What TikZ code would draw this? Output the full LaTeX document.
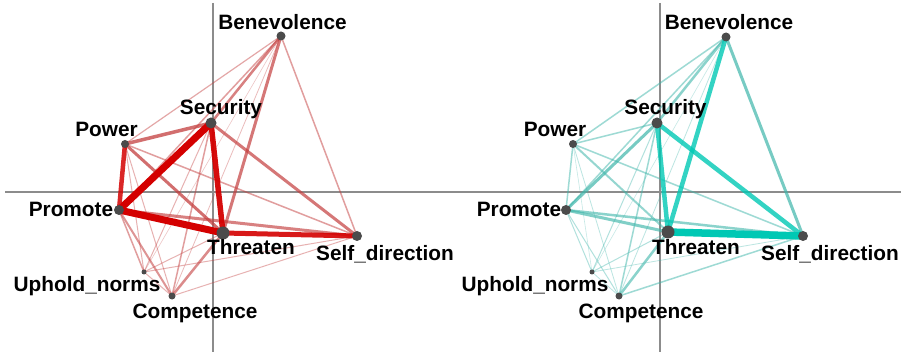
\documentclass[tikz,border=0pt]{standalone}
\usepackage{fontspec}
\setmainfont{Liberation Sans}
\pgfdeclarelayer{edges}
\pgfsetlayers{edges,main}
\begin{document}
\definecolor{axisgray}{RGB}{140,140,140}
\definecolor{nodegray}{RGB}{75,75,75}
\definecolor{redS}{RGB}{212,0,0}
\definecolor{redM}{RGB}{196,62,62}
\definecolor{tealS}{RGB}{0,200,180}
\definecolor{tealM}{RGB}{62,182,170}
\begin{tikzpicture}[x=1pt,y=-1pt,
  axis/.style={draw=axisgray,line width=1.1pt},
  vertex/.style={circle,fill=nodegray,inner sep=0pt,minimum size=#1},
  lbl/.style={font=\bfseries\fontsize{20.8}{22}\selectfont,anchor=base,inner sep=0pt},
  edge/.style={line cap=round}]
\useasboundingbox (0,0) rectangle (901,352);

% axes
\coordinate (lxa) at (5,192);   \coordinate (lxb) at (450,192);
\coordinate (lya) at (213,3);   \coordinate (lyb) at (213,352);
\coordinate (rxa) at (450,192); \coordinate (rxb) at (901,192);
\coordinate (rya) at (660,3);   \coordinate (ryb) at (660,352);
\begin{pgfonlayer}{edges}
\fill[white] (0,0) rectangle (901,352);
\draw[axis] (lxa) -- (lxb);
\draw[axis] (lya) -- (lyb);
\draw[axis] (rxa) -- (rxb);
\draw[axis] (rya) -- (ryb);
\end{pgfonlayer}

% left network: vertices
\node[vertex=9pt]  (lBe) at (281,36) {};
\node[vertex=11pt] (lSe) at (211,123) {};
\node[vertex=8pt]  (lPo) at (125,144) {};
\node[vertex=10pt] (lPr) at (119,210) {};
\node[vertex=13pt] (lTh) at (223,233) {};
\node[vertex=10pt] (lSd) at (357,236) {};
\node[vertex=5pt]  (lUp) at (144,272) {};
\node[vertex=7pt]  (lCo) at (172,296) {};

% right network: vertices
\node[vertex=9pt]  (rBe) at (726,37) {};
\node[vertex=11pt] (rSe) at (657,123) {};
\node[vertex=8pt]  (rPo) at (573,144) {};
\node[vertex=10pt] (rPr) at (566,210) {};
\node[vertex=13pt] (rTh) at (668,232) {};
\node[vertex=10pt] (rSd) at (803,236) {};
\node[vertex=5pt]  (rUp) at (592,272) {};
\node[vertex=7pt]  (rCo) at (619,296) {};

% weighted edges, below the vertices
\begin{pgfonlayer}{edges}
\foreach \a/\b/\w/\o/\c in {
  Up/Be/0.6/0.3/redM, Co/Be/0.8/0.35/redM, Up/Po/1/0.4/redM, Up/Se/1/0.4/redM,
  Up/Th/1/0.4/redM, Up/Sd/1/0.4/redM, Up/Co/1/0.4/redM, Co/Po/1/0.4/redM,
  Co/Sd/1/0.4/redM, Po/Be/1.2/0.45/redM, Up/Pr/1.5/0.5/redM, Co/Se/1.5/0.5/redM,
  Pr/Be/1.5/0.5/redM, Be/Sd/1.5/0.5/redM, Po/Sd/1.5/0.5/redM, Co/Pr/2/0.55/redM,
  Co/Th/2.5/0.6/redM, Se/Be/2.5/0.65/redM, Pr/Sd/3/0.65/redM, Se/Sd/3/0.7/redM,
  Th/Be/3/0.7/redM, Po/Th/3/0.75/redM, Po/Se/3.5/0.75/redM, Po/Pr/4.5/0.85/redS,
  Th/Sd/5/0.9/redS, Se/Th/5.5/0.95/redS, Pr/Th/7/1/redS, Pr/Se/7/1/redS}
  \draw[edge,draw=\c,line width=\w pt,draw opacity=\o] (l\a.center) -- (l\b.center);
\foreach \a/\b/\w/\o/\c in {
  Up/Be/0.6/0.3/tealM, Up/Po/0.6/0.3/tealM, Co/Po/0.8/0.35/tealM, Co/Be/0.8/0.35/tealM,
  Up/Sd/0.8/0.35/tealM, Up/Co/0.8/0.35/tealM, Up/Pr/1/0.4/tealM, Up/Se/1/0.4/tealM,
  Up/Th/1/0.4/tealM, Co/Pr/1/0.4/tealM, Po/Se/1.5/0.5/tealM, Po/Pr/1.5/0.5/tealM,
  Po/Be/1.5/0.5/tealM, Po/Sd/1.5/0.5/tealM, Co/Se/1.5/0.5/tealM, Co/Sd/1.5/0.5/tealM,
  Pr/Be/1.5/0.5/tealM, Po/Th/2/0.55/tealM, Co/Th/2.5/0.6/tealM, Se/Be/2.5/0.6/tealM,
  Pr/Sd/2.5/0.6/tealM, Pr/Th/3/0.65/tealM, Pr/Se/3/0.7/tealM, Be/Sd/3/0.7/tealM,
  Se/Sd/4.5/0.8/tealS, Be/Th/4.5/0.8/tealS, Se/Th/4.5/0.8/tealS, Th/Sd/7.5/1/tealS}
  \draw[edge,draw=\c,line width=\w pt,draw opacity=\o] (r\a.center) -- (r\b.center);
\end{pgfonlayer}

% labels, left
\node[lbl] (tlBe) at (282.5,30) {Benevolence};
\node[lbl] (tlSe) at (221,115) {Security};
\node[lbl] (tlPo) at (106.5,137) {Power};
\node[lbl] (tlPr) at (71,217) {Promote};
\node[lbl] (tlTh) at (251,255) {Threaten};
\node[lbl] (tlSd) at (385,261) {Self\_direction};
\node[lbl] (tlUp) at (87,291) {Uphold\_norms};
\node[lbl] (tlCo) at (195,318) {Competence};

% labels, right
\node[lbl] (trBe) at (729,30) {Benevolence};
\node[lbl] (trSe) at (665.5,115) {Security};
\node[lbl] (trPo) at (555,137) {Power};
\node[lbl] (trPr) at (519,217) {Promote};
\node[lbl] (trTh) at (696,255) {Threaten};
\node[lbl] (trSd) at (830,261) {Self\_direction};
\node[lbl] (trUp) at (535,291) {Uphold\_norms};
\node[lbl] (trCo) at (641,318) {Competence};
\end{tikzpicture}
\end{document}
